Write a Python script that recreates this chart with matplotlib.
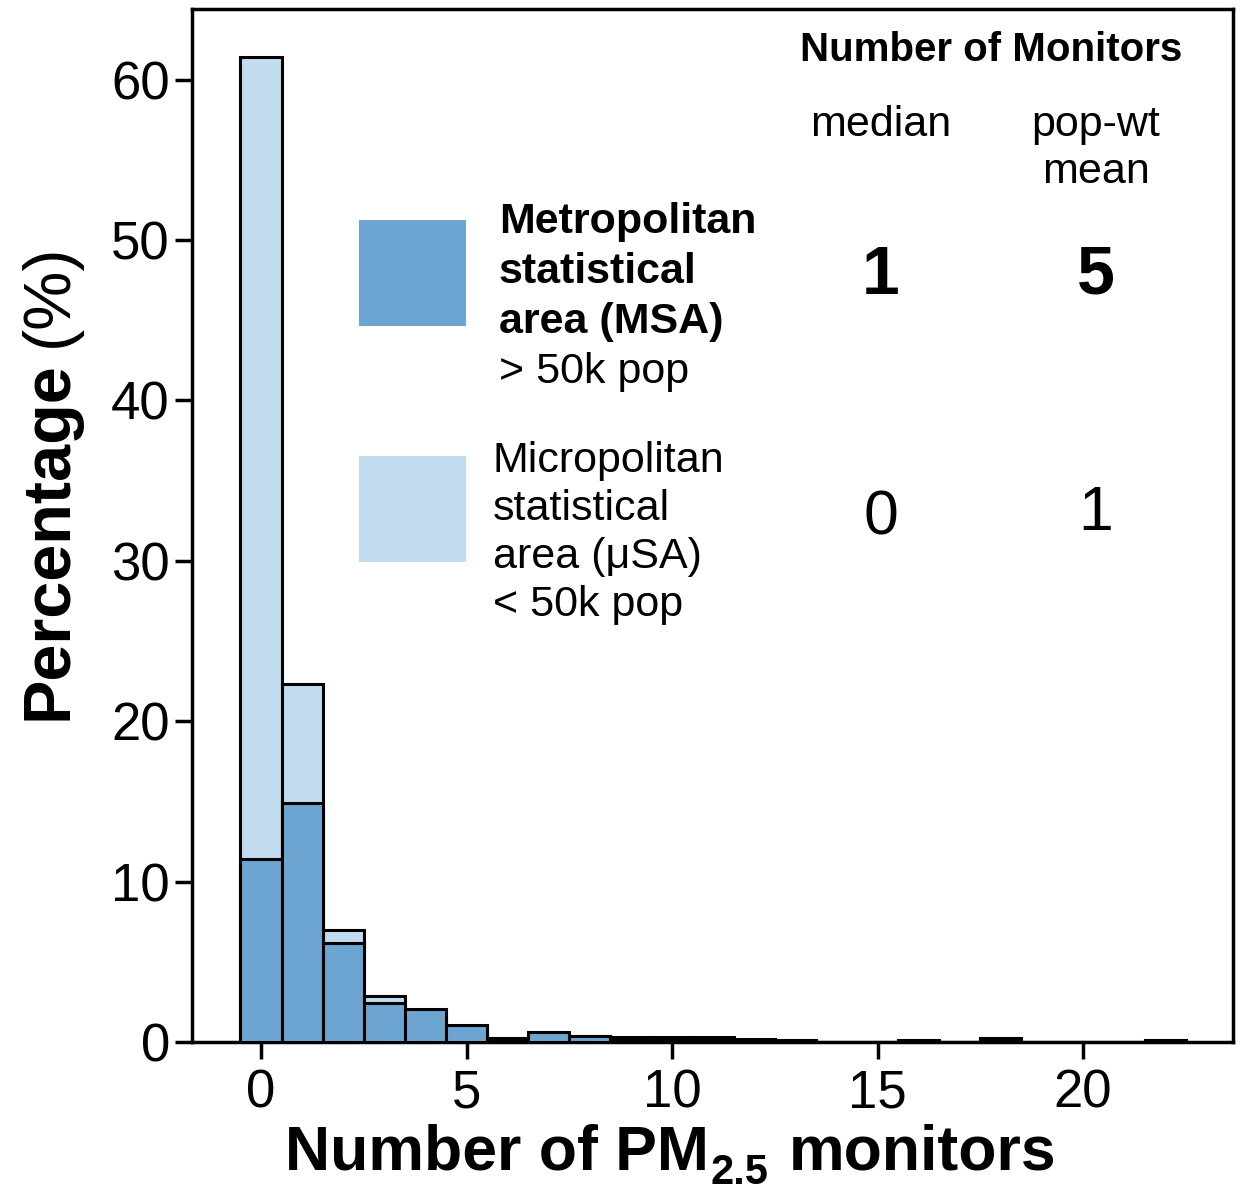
import numpy as np
import matplotlib
matplotlib.use("Agg")
import matplotlib.pyplot as plt
from matplotlib.patches import Rectangle

plt.rcParams['font.family'] = ['Liberation Sans', 'DejaVu Sans']

# number of monitors per area, percentage of areas
n_monitors = np.arange(0, 23)
msa_pct = [11.4, 14.9, 6.2, 2.45, 2.05, 1.05, 0.2, 0.6, 0.35, 0.12, 0.12, 0.12,
           0.1, 0.05, 0, 0, 0.05, 0, 0.15, 0, 0, 0, 0.05]
usa_pct = [61.4, 22.3, 7.0, 2.85, 1.8, 0.8, 0.25, 0.45, 0.35, 0.3, 0.3, 0.3,
           0.2, 0.1, 0, 0, 0.1, 0, 0.25, 0, 0, 0, 0.1]

stats_cols = ["median", "pop-wt", "mean"]
msa_stats = ["1", "5"]
usa_stats = ["0", "1"]

dark = "#6ca5d1"
light = "#c0dcee"

W, H = 1243, 1193
fig = plt.figure(figsize=(W / 100, H / 100), dpi=100)
ax = fig.add_axes([192 / W, 1 - 1042 / H, (1233 - 192) / W, (1042 - 9) / H])

ax.bar(n_monitors, usa_pct, width=1, color=light, edgecolor="black", linewidth=2.2, zorder=2)
ax.bar(n_monitors, msa_pct, width=1, color=dark, edgecolor="black", linewidth=2.2, zorder=3)

ax.set_xlim(-1.68, 23.65)
ax.set_ylim(0, 64.4)
ax.set_xticks([0, 5, 10, 15, 20])
ax.set_yticks([0, 10, 20, 30, 40, 50, 60])
ax.tick_params(axis="both", direction="out", length=12, width=2.5, labelsize=38, pad=4)
ax.tick_params(axis="x", pad=7)
for sp in ax.spines.values():
    sp.set_linewidth(2.5)

def px(x, y):
    return x / W, 1 - y / H

r = fig.canvas.get_renderer()

# y label: bold word plus regular unit
ylab = fig.text(*px(50, 720), "Percentage", rotation=90, fontsize=48, fontweight="bold",
                ha="center", va="bottom")
bb = ylab.get_window_extent(r)
fig.text(50 / W, (bb.y1 + 14) / H, "(%)", rotation=90, fontsize=48,
         ha="center", va="bottom")

# x label with a hand-placed subscript
base_y = 1 - 1169 / H
t1 = fig.text(285 / W, base_y, "Number of PM", fontsize=45, fontweight="bold",
              ha="left", va="baseline")
b1 = t1.get_window_extent(r)
t2 = fig.text((b1.x1 + 2) / W, 1 - 1184 / H, "2.5", fontsize=30, fontweight="bold",
              ha="left", va="baseline")
b2 = t2.get_window_extent(r)
fig.text((b2.x1 + 20) / W, base_y, "monitors", fontsize=45, fontweight="bold",
         ha="left", va="baseline")

# stats header
fig.text(*px(991, 50), "Number of Monitors", fontsize=29, fontweight="bold", ha="center", va="center")
fig.text(*px(881, 125), stats_cols[0], fontsize=31, ha="center", va="center")
fig.text(*px(1096, 125), stats_cols[1], fontsize=31, ha="center", va="center")
fig.text(*px(1096, 172), stats_cols[2], fontsize=31, ha="center", va="center")

fig.text(*px(881, 276), msa_stats[0], fontsize=49, fontweight="bold", ha="center", va="center")
fig.text(*px(1096, 276), msa_stats[1], fontsize=49, fontweight="bold", ha="center", va="center")
fig.text(*px(881, 518), usa_stats[0], fontsize=45, ha="center", va="center")
fig.text(*px(1096, 513), usa_stats[1], fontsize=45, ha="center", va="center")

# legend swatches
for top, col in [(220, dark), (456, light)]:
    x0, y0 = px(359, top + 106)
    fig.patches.append(Rectangle((x0, y0), 107 / W, 106 / H, transform=fig.transFigure,
                                 facecolor=col, edgecolor="none"))

msa_lines = [("Metropolitan", "bold"), ("statistical", "bold"),
             ("area (MSA)", "bold"), ("> 50k pop", "normal")]
for i, (s, w) in enumerate(msa_lines):
    fig.text(*px(499, 222 + 50 * i), s, fontsize=31, fontweight=w, ha="left", va="center")

usa_lines = ["Micropolitan", "statistical", "area (\u03bcSA)", "< 50k pop"]
for i, s in enumerate(usa_lines):
    fig.text(*px(493, 461 + 48 * i), s, fontsize=31, ha="left", va="center")

fig.savefig("out.png", dpi=100)
